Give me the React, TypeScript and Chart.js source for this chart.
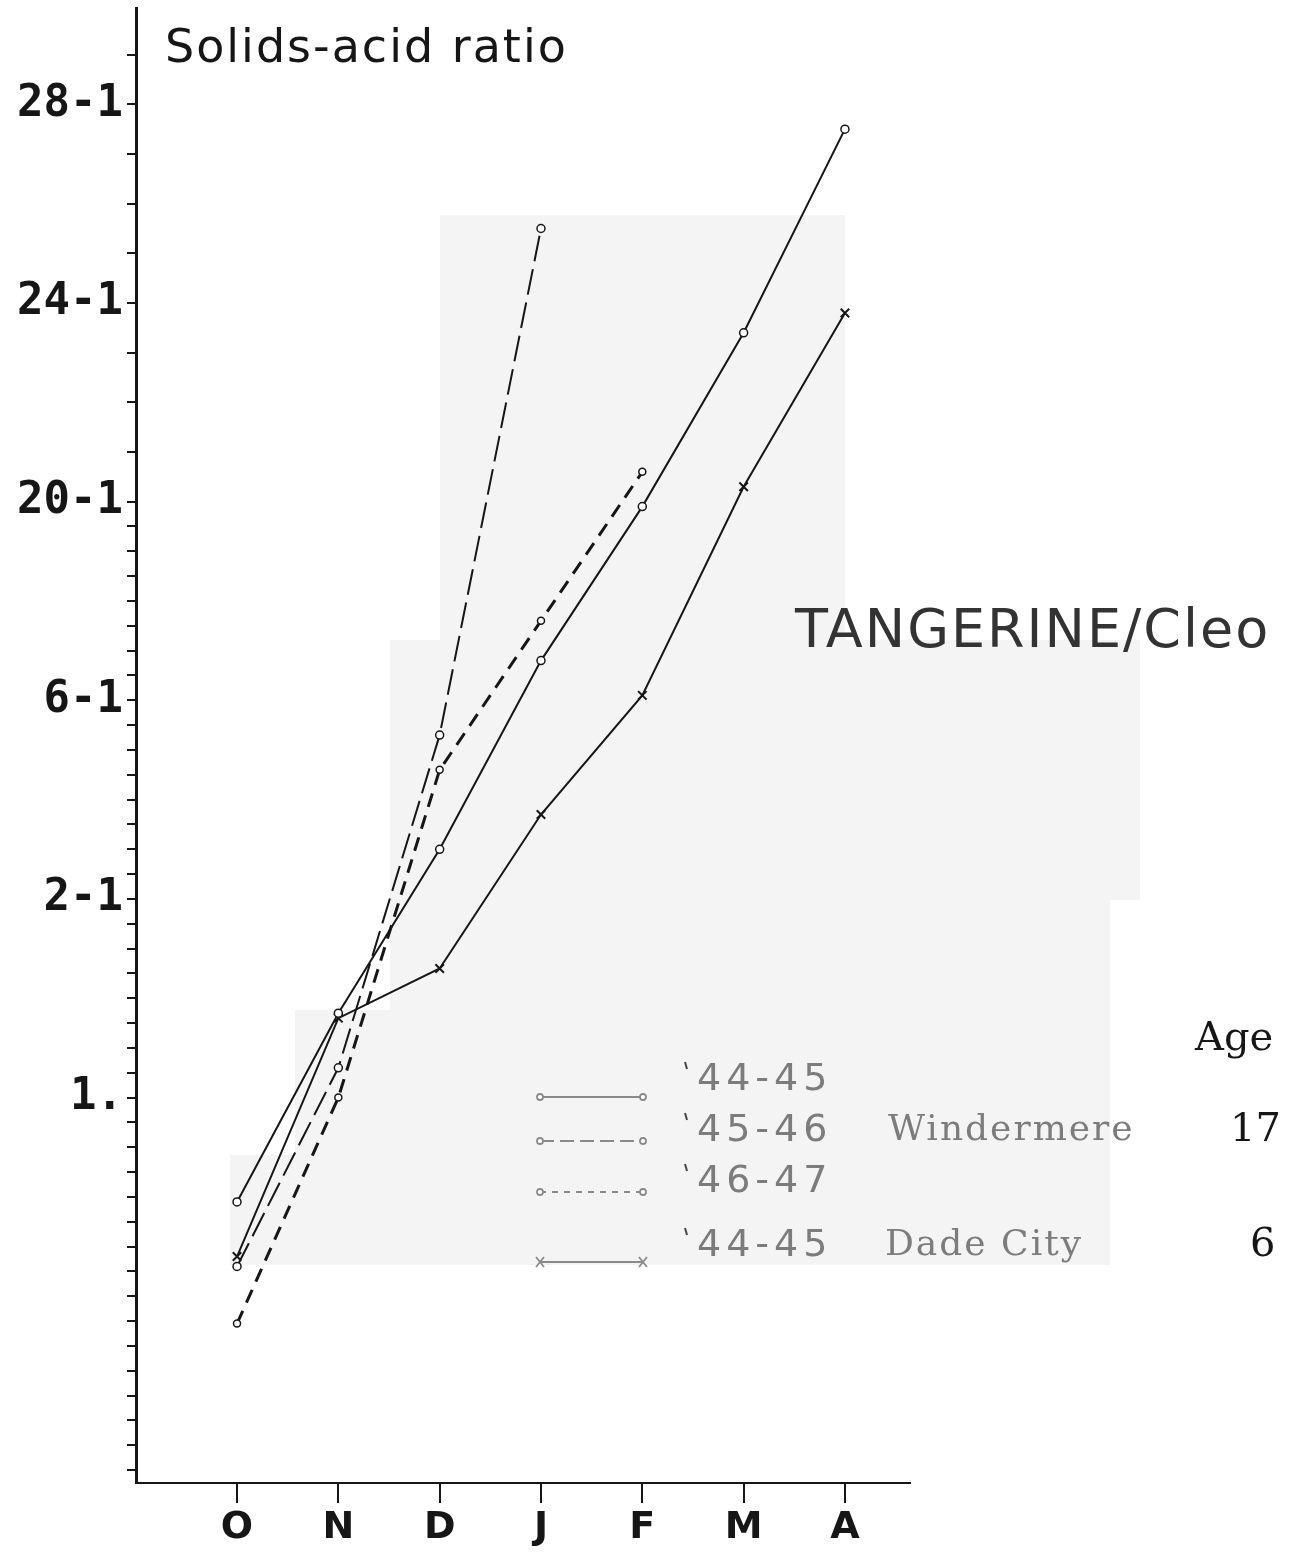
import React, { useEffect, useRef } from 'react';
import { Chart, registerables } from 'chart.js';

Chart.register(...registerables);

// ---- data ----
const months = ['O', 'N', 'D', 'J', 'F', 'M', 'A'];
const windermere4445 = [5.9, 9.7, 13.0, 16.8, 19.9, 23.4, 27.5];
const windermere4546 = [4.6, 8.6, 15.3, 25.5, null, null, null];
const windermere4647 = [3.45, 8.0, 14.6, 17.6, 20.6, null, null];
const dadeCity4445 = [4.8, 9.6, 10.6, 13.7, 16.1, 20.3, 23.8];

const yMajorTicks = [8, 12, 16, 20, 24, 28];
const yTickLabels = ['1.', '2-1', '6-1', '20-1', '24-1', '28-1'];

const chartTitle = 'Solids-acid ratio';
const varietyLabel = 'TANGERINE/Cleo';
const legendSeasons = ['44-45', '45-46', '46-47', '44-45'];
const groveNames = ['Windermere', 'Dade City'];
const ageHeader = 'Age';
const groveAges = ['17', '6'];

const toPoints = (arr: (number | null)[]) =>
  arr.map((v, i) => ({ x: i, y: v }));

const INK = '#161616';

const backgroundPlugin = {
  id: 'paper',
  beforeDraw(chart: any) {
    const { ctx, width, height } = chart;
    ctx.save();
    ctx.fillStyle = '#ffffff';
    ctx.fillRect(0, 0, width, height);
    ctx.fillStyle = '#f4f4f4';
    ctx.beginPath();
    ctx.moveTo(440, 215);
    ctx.lineTo(845, 215);
    ctx.lineTo(845, 640);
    ctx.lineTo(1140, 640);
    ctx.lineTo(1140, 900);
    ctx.lineTo(1110, 900);
    ctx.lineTo(1110, 1265);
    ctx.lineTo(230, 1265);
    ctx.lineTo(230, 1155);
    ctx.lineTo(295, 1155);
    ctx.lineTo(295, 1010);
    ctx.lineTo(390, 1010);
    ctx.lineTo(390, 640);
    ctx.lineTo(440, 640);
    ctx.closePath();
    ctx.fill();
    ctx.restore();
  },
};

const textPlugin = {
  id: 'texts',
  afterDraw(chart: any) {
    const { ctx } = chart;
    ctx.save();
    ctx.textBaseline = 'middle';
    ctx.textAlign = 'left';

    // title
    ctx.fillStyle = INK;
    ctx.font = '46px "DejaVu Sans"';
    (ctx as any).letterSpacing = '2px';
    ctx.fillText(chartTitle, 165, 50);

    // variety label
    ctx.fillStyle = '#333';
    ctx.font = '54px "DejaVu Sans"';
    (ctx as any).letterSpacing = '2px';
    ctx.fillText(varietyLabel, 795, 633);

    // legend
    const rowSample = [1097, 1141, 1192, 1262];
    const rowText = [1080, 1131, 1182, 1246];
    const dashes = [[], [14, 6], [6, 6], []];
    ctx.strokeStyle = '#8a8a8a';
    ctx.fillStyle = '#ffffff';
    rowSample.forEach((y, i) => {
      ctx.lineWidth = 1.8;
      ctx.setLineDash(dashes[i]);
      ctx.beginPath();
      ctx.moveTo(540, y);
      ctx.lineTo(643, y);
      ctx.stroke();
      ctx.setLineDash([]);
      [540, 643].forEach((x) => {
        ctx.beginPath();
        if (i === 3) {
          ctx.moveTo(x - 4, y - 5);
          ctx.lineTo(x + 4, y + 5);
          ctx.moveTo(x + 4, y - 5);
          ctx.lineTo(x - 4, y + 5);
          ctx.stroke();
        } else {
          ctx.arc(x, y, 3, 0, Math.PI * 2);
          ctx.fill();
          ctx.stroke();
        }
      });
    });

    ctx.fillStyle = '#7c7c7c';
    ctx.font = '38px "DejaVu Sans"';
    (ctx as any).letterSpacing = '5px';
    rowText.forEach((y, i) => {
      ctx.fillText(legendSeasons[i], 697, y);
      ctx.strokeStyle = '#444';
      ctx.lineWidth = 2;
      ctx.beginPath();
      ctx.moveTo(685, y - 18);
      ctx.lineTo(687, y - 11);
      ctx.stroke();
    });
    ctx.font = '36px "DejaVu Serif"';
    (ctx as any).letterSpacing = '2px';
    ctx.fillText(groveNames[0], 888, rowText[1]);
    ctx.fillText(groveNames[1], 885, rowText[3]);

    ctx.fillStyle = INK;
    ctx.font = '40px "DejaVu Serif"';
    (ctx as any).letterSpacing = '0px';
    ctx.fillText(ageHeader, 1195, 1040);
    ctx.fillText(groveAges[0], 1230, rowText[1]);
    ctx.fillText(groveAges[1], 1250, rowText[3]);
    ctx.restore();
  },
};

export default function App() {
  const ref = useRef<HTMLCanvasElement | null>(null);

  useEffect(() => {
    if (!ref.current) return;
    const chart = new Chart(ref.current, {
      type: 'line',
      data: {
        datasets: [
          {
            label: '44-45 Windermere',
            data: toPoints(windermere4445),
            borderColor: INK,
            borderWidth: 2,
            pointStyle: 'circle',
            pointRadius: 4,
            pointBackgroundColor: '#ffffff',
            pointBorderColor: INK,
            pointBorderWidth: 1.5,
          },
          {
            label: '45-46 Windermere',
            data: toPoints(windermere4546),
            borderColor: INK,
            borderWidth: 2,
            borderDash: [26, 8],
            pointStyle: 'circle',
            pointRadius: 4,
            pointBackgroundColor: '#ffffff',
            pointBorderColor: INK,
            pointBorderWidth: 1.5,
          },
          {
            label: '46-47 Windermere',
            data: toPoints(windermere4647),
            borderColor: INK,
            borderWidth: 3,
            borderDash: [14, 9],
            pointStyle: 'circle',
            pointRadius: 3.5,
            pointBackgroundColor: '#ffffff',
            pointBorderColor: INK,
            pointBorderWidth: 1.5,
          },
          {
            label: '44-45 Dade City',
            data: toPoints(dadeCity4445),
            borderColor: INK,
            borderWidth: 2,
            pointStyle: 'crossRot',
            pointRadius: 6,
            pointBorderColor: INK,
            pointBorderWidth: 2,
          },
        ],
      },
      options: {
        animation: false,
        responsive: false,
        maintainAspectRatio: false,
        spanGaps: false,
        layout: { padding: { left: 0, top: 0, right: 384, bottom: 0 } },
        plugins: {
          legend: { display: false },
          tooltip: { enabled: false },
          title: { display: false },
        },
        scales: {
          x: {
            type: 'linear',
            min: -0.997,
            max: 6.642,
            afterBuildTicks: (s: any) => {
              s.ticks = months.map((_, i) => ({ value: i }));
            },
            afterFit: (s: any) => {
              s.height = 69;
            },
            ticks: {
              autoSkip: false,
              maxRotation: 0,
              padding: 2,
              color: INK,
              font: { family: '"DejaVu Sans"', size: 38, weight: 'bold' },
              callback: (v: any) => months[v as number] ?? '',
            },
            grid: {
              drawOnChartArea: false,
              drawTicks: true,
              tickLength: 20,
              color: INK,
              lineWidth: 2,
            },
            border: { display: true, color: INK, width: 2 },
          },
          y: {
            type: 'linear',
            min: 0.24,
            max: 29.94,
            afterBuildTicks: (s: any) => {
              const t: { value: number }[] = [];
              for (let i = 1; i <= 40; i++) t.push({ value: i / 2 });
              for (let v = 21; v <= 29; v++) t.push({ value: v });
              s.ticks = t;
            },
            afterFit: (s: any) => {
              s.width = 136;
            },
            ticks: {
              autoSkip: false,
              padding: 4,
              color: INK,
              font: (c: any) => ({
                family: '"DejaVu Sans Mono"',
                weight: 'bold',
                size: c.tick && yMajorTicks.includes(c.tick.value) ? 44 : 1,
              }),
              callback: (v: any) => {
                const i = yMajorTicks.indexOf(v as number);
                return i >= 0 ? yTickLabels[i] : '';
              },
            },
            grid: {
              drawOnChartArea: false,
              drawTicks: true,
              tickLength: 9,
              color: INK,
              lineWidth: 2,
            },
            border: { display: true, color: INK, width: 3 },
          },
        },
      },
      plugins: [backgroundPlugin, textPlugin],
    });
    return () => chart.destroy();
  }, []);

  return (
    <div style={{ position: 'absolute', left: 0, top: 0, width: 1294, height: 1552, background: '#fff' }}>
      <canvas ref={ref} width={1294} height={1552} style={{ display: 'block' }} />
    </div>
  );
}
